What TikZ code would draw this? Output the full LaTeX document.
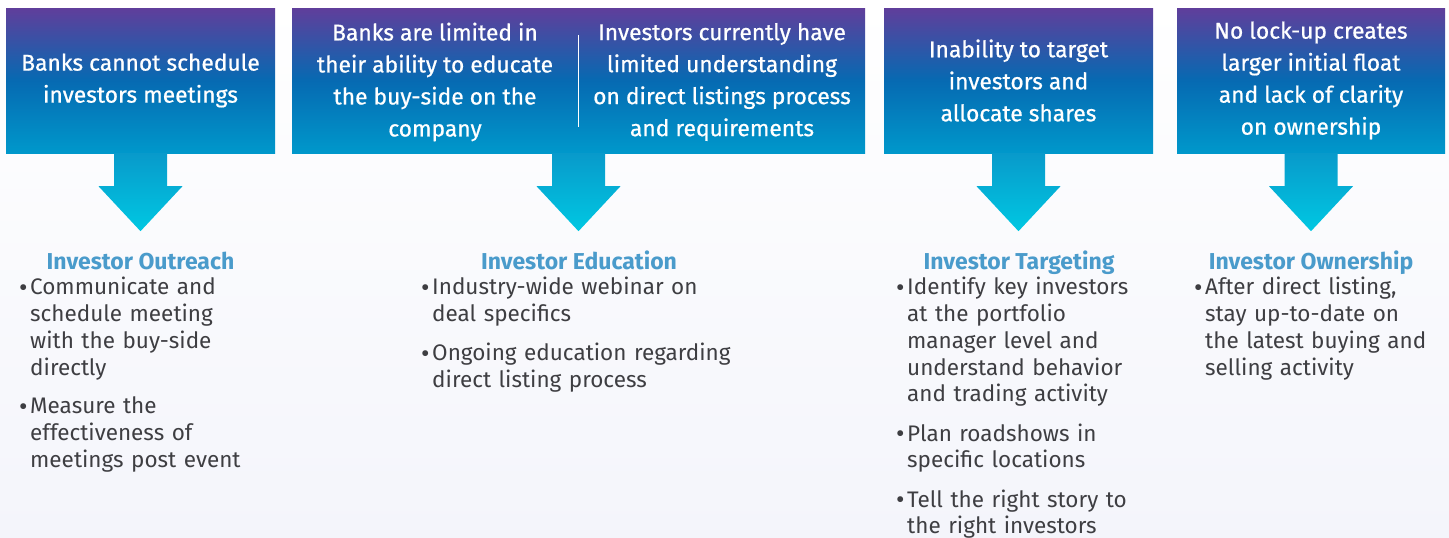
\documentclass[tikz,border=0pt]{standalone}
\usepackage{fontspec}
\setmainfont{Fira Sans}
\newfontfamily\hdrfont{Fira Sans}[FakeBold=0.7]
\usetikzlibrary{positioning,calc}

\definecolor{btop}{RGB}{96,62,155}
\definecolor{bmid}{RGB}{6,106,178}
\definecolor{bbot}{RGB}{0,152,203}
\definecolor{atop}{RGB}{8,154,203}
\definecolor{abot}{RGB}{0,200,226}
\definecolor{ttlblue}{RGB}{74,155,203}
\definecolor{txtgray}{RGB}{62,62,66}
\definecolor{bgtint}{RGB}{244,245,251}

% one bullet with its lines hanging under the first
\newcommand{\bitem}[1]{\par\noindent\makebox[11pt][l]{\raisebox{-1.5pt}{\fontsize{26}{26}\selectfont\textbullet}}%
  \parbox[t]{330pt}{\raggedright #1}\par\vspace{16pt}}

\tikzset{
  hdr/.style={inner sep=0pt, minimum height=145pt, top color=btop, bottom color=bbot,
    middle color=bmid, text=white, font=\hdrfont\fontsize{22.8}{32}\selectfont, align=center},
  hdrtext/.style={inner sep=0pt, text=white, font=\hdrfont\fontsize{22.8}{32}\selectfont, align=center},
  ttl/.style={inner sep=0pt, anchor=base, text=ttlblue, font=\bfseries\fontsize{23}{23}\selectfont},
  lst/.style={inner sep=0pt, anchor=north west, text=txtgray, text width=345pt, align=left,
    font=\fontsize{22.5}{26.7}\selectfont}
}

\begin{document}
\begin{tikzpicture}[x=1pt,y=-1pt]
\useasboundingbox (0,0) rectangle (1449,538);
\shade[top color=white, bottom color=bgtint] (0,0) rectangle (1449,538);

% the four problem boxes
\node[hdr, minimum width=269pt] (b1) at (140.5,80.5) {Banks cannot schedule\\investors meetings};
\node[hdr, minimum width=573pt] (b2) at (578.5,80.5) {};
\node[hdrtext] (b2l) at (435,82) {Banks are limited in\\their ability to educate\\the buy-side on the\\company};
\node[hdrtext] (b2r) at (722,82) {Investors currently have\\limited understanding\\on direct listings process\\and requirements};
\draw[white, line width=0.8pt] ($(b2.north)+(0,27)$) -- ($(b2.south)+(0,-26)$);
\node[hdr, minimum width=269pt] (b3) at (1018.5,80.5) {Inability to target\\investors and\\allocate shares};
\node[hdr, minimum width=268pt] (b4) at (1311,80.5) {No lock-up creates\\larger initial float\\and lack of clarity\\on ownership};

% block arrows under the boxes
\foreach \b in {b1,b2,b3,b4}
  \shade[top color=atop, bottom color=abot] ($(\b.south)+(-26.5,0)$) -- ++(53,0) -- ++(0,33) -- ++(15.5,0)
    -- ($(\b.south)+(0,78)$) -- ++(-42,-45) -- ++(15.5,0) -- cycle;

% answers
\node[ttl] (t1) at (140.5,269) {Investor Outreach};
\node[ttl] (t2) at (579,269) {Investor Education};
\node[ttl] (t3) at (1019,269) {Investor Targeting};
\node[ttl] (t4) at (1311,269) {Investor Ownership};

\node[lst] (l1) at (19,268) {\bitem{Communicate and\\schedule meeting\\with the buy-side\\directly}\bitem{Measure the\\effectiveness of\\meetings post event}};
\node[lst] (l2) at (421,268) {\bitem{Industry-wide webinar on\\deal specifics}\bitem{Ongoing education regarding\\direct listing process}};
\node[lst] (l3) at (896,268) {\bitem{Identify key investors\\at the portfolio\\manager level and\\understand behavior\\and trading activity}\bitem{Plan roadshows in\\specific locations}\bitem{Tell the right story to\\the right investors}};
\node[lst] (l4) at (1194,268) {\bitem{After direct listing,\\stay up-to-date on\\the latest buying and\\selling activity}};
\end{tikzpicture}
\end{document}
